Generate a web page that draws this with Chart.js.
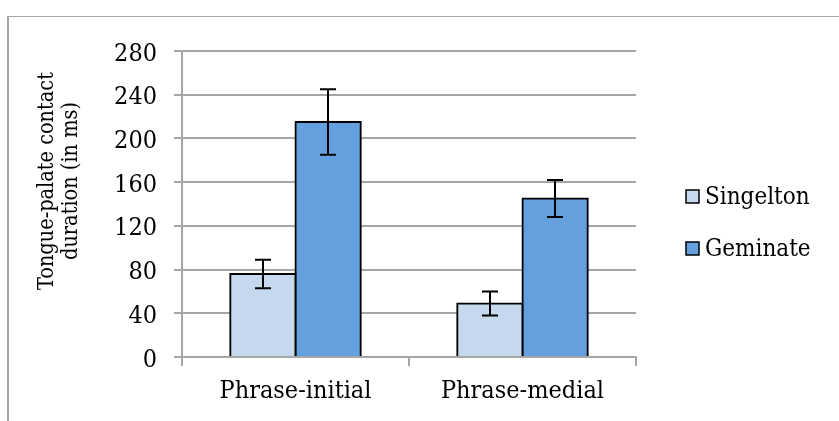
<!DOCTYPE html>
<html>
<head>
<meta charset="utf-8">
<script src="https://cdn.jsdelivr.net/npm/chart.js@4/dist/chart.umd.min.js"></script>
<style>
  html, body { margin: 0; padding: 0; background: #ffffff; }
  #wrap { width: 839px; height: 421px; position: relative; }
</style>
</head>
<body>
<div id="wrap"><canvas id="c" width="839" height="421"></canvas></div>
<script>
const categories = ["Phrase-initial", "Phrase-medial"];
const seriesNames = ["Singelton", "Geminate"];
const singeltonValues = [76, 49];
const geminateValues = [215, 145];
const singeltonErrors = [13, 11];
const geminateErrors = [30, 17];
const yTicks = [0, 40, 80, 120, 160, 200, 240, 280];
const yTitleLines = ["Tongue-palate contact", "duration (in ms)"];

const FONT = "'DejaVu Serif Condensed', 'DejaVu Serif', serif";
const GRID = "#a6a6a6";
const fills = ["#c5d8ee", "#64a0dd"];

const errorBars = {
  id: "errorBars",
  afterDatasetsDraw(chart) {
    const ctx = chart.ctx;
    const y = chart.scales.y;
    const errs = [singeltonErrors, geminateErrors];
    ctx.save();
    ctx.strokeStyle = "#000";
    ctx.lineWidth = 2;
    chart.data.datasets.forEach((ds, di) => {
      const meta = chart.getDatasetMeta(di);
      meta.data.forEach((bar, i) => {
        const v = ds.data[i];
        const e = errs[di][i];
        const x = Math.round(bar.x);
        const yt = y.getPixelForValue(v + e);
        const yb = y.getPixelForValue(v - e);
        ctx.beginPath();
        ctx.moveTo(x, yt); ctx.lineTo(x, yb);
        ctx.moveTo(x - 8, yt); ctx.lineTo(x + 8, yt);
        ctx.moveTo(x - 8, yb); ctx.lineTo(x + 8, yb);
        ctx.stroke();
      });
    });
    ctx.restore();
  }
};

const decor = {
  id: "decor",
  beforeDraw(chart) {
    const ctx = chart.ctx;
    ctx.save();
    ctx.fillStyle = "#fff";
    ctx.fillRect(0, 0, chart.width, chart.height);
    ctx.strokeStyle = GRID;
    ctx.lineWidth = 2;
    ctx.beginPath();
    ctx.moveTo(8, chart.height + 2);
    ctx.lineTo(8, 16);
    ctx.stroke();
    ctx.lineWidth = 1;
    ctx.beginPath();
    ctx.moveTo(8, 16.5);
    ctx.lineTo(chart.width + 2, 16.5);
    ctx.stroke();
    ctx.restore();
  },
  afterDraw(chart) {
    const ctx = chart.ctx;
    ctx.save();
    // y-axis title
    ctx.fillStyle = "#000";
    ctx.font = "21.5px " + FONT;
    ctx.textAlign = "center";
    ctx.textBaseline = "middle";
    ctx.translate(0, 181);
    ctx.rotate(-Math.PI / 2);
    ctx.fillText(yTitleLines[0], 0, 47);
    ctx.fillText(yTitleLines[1], 0, 71);
    ctx.restore();
    // legend
    ctx.save();
    ctx.font = "24px " + FONT;
    ctx.textBaseline = "middle";
    ctx.textAlign = "left";
    const ys = [197, 249];
    seriesNames.forEach((name, i) => {
      ctx.fillStyle = fills[i];
      ctx.fillRect(686, ys[i] - 7, 13, 13);
      ctx.strokeStyle = "#000";
      ctx.lineWidth = 1.5;
      ctx.strokeRect(686, ys[i] - 7, 13, 13);
      ctx.fillStyle = "#000";
      ctx.fillText(name, 705, ys[i] + 1);
    });
    ctx.restore();
  }
};

new Chart(document.getElementById("c"), {
  type: "bar",
  data: {
    labels: categories,
    datasets: [
      { label: seriesNames[0], data: singeltonValues, backgroundColor: fills[0], borderColor: "#000", borderWidth: 2, borderSkipped: "start", inflateAmount: 1 },
      { label: seriesNames[1], data: geminateValues, backgroundColor: fills[1], borderColor: "#000", borderWidth: 2, borderSkipped: "start", inflateAmount: 1 }
    ]
  },
  options: {
    responsive: false,
    animation: false,
    events: [],
    layout: { padding: { left: 0, top: 51, right: 203, bottom: 0 } },
    plugins: { legend: { display: false }, tooltip: { enabled: false } },
    datasets: { bar: { categoryPercentage: 0.575, barPercentage: 1.0 } },
    scales: {
      x: {
        grid: { offset: true, drawOnChartArea: false, drawTicks: true, tickLength: 9, color: GRID, lineWidth: 2 },
        border: { color: GRID, width: 2 },
        ticks: { color: "#000", font: { family: FONT, size: 25 }, padding: 10 },
        afterFit(s) { s.height = 421 - 357; }
      },
      y: {
        min: 0, max: 280,
        afterBuildTicks(s) { s.ticks = yTicks.map(v => ({ value: v })); },
        grid: { color: GRID, lineWidth: 2, drawTicks: true, tickLength: 8 },
        border: { color: GRID, width: 2 },
        ticks: { color: "#000", font: { family: FONT, size: 25 }, padding: 17, labelOffset: 3 },
        afterFit(s) { s.width = 182; }
      }
    }
  },
  plugins: [decor, errorBars]
});
</script>
</body>
</html>
